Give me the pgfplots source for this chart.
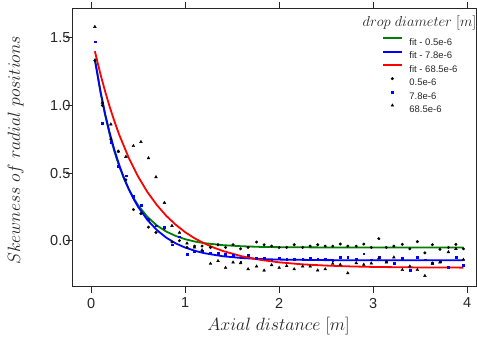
\RequirePackage{fix-cm}
\documentclass[border=0pt]{standalone}
\usepackage{fontspec}
\setmainfont{Liberation Sans}
\usepackage{pgfplots}
\pgfplotsset{compat=1.18}
\usepackage{pgfplotstable}
\definecolor{axgray}{gray}{0.15}
\definecolor{fitgreen}{rgb}{0,0.5,0}
\pgfplotsset{
  linelegend/.style={legend image code/.code={\path[draw=none, fill=none] (0pt,0pt) rectangle (19pt,7pt); \fill[##1, draw=none] (0pt,2.5pt) rectangle (19pt,4.5pt);}},
  marklegend/.style={legend image code/.code={\path[draw=none, fill=none] (0pt,0pt) rectangle (19pt,7pt); \draw[##1, only marks] plot coordinates {(9pt,3.5pt)};}},
}

\pgfplotstableread{
x y
0.04 1.33
0.12 1.00
0.21 0.75
0.29 0.66
0.37 0.45
0.45 0.23
0.53 0.20
0.61 0.10
0.69 0.06
0.78 0.09
0.86 -0.01
0.94 0.00
1.02 -0.05
1.10 -0.04
1.18 -0.04
1.27 -0.05
1.35 -0.03
1.43 -0.05
1.51 -0.03
1.59 -0.06
1.67 -0.05
1.76 -0.01
1.84 -0.03
1.92 -0.04
2.00 -0.05
2.08 -0.05
2.16 -0.03
2.25 -0.05
2.33 -0.04
2.41 -0.03
2.49 -0.04
2.57 -0.04
2.65 -0.025
2.73 -0.04
2.82 -0.04
2.90 -0.025
2.98 -0.05
3.06 0.015
3.14 -0.05
3.22 -0.04
3.31 -0.027
3.39 -0.06
3.47 -0.007
3.55 -0.09
3.63 -0.03
3.71 -0.064
3.80 -0.05
3.88 -0.027
3.96 -0.06
}\dataA

\pgfplotstableread{
x y
0.04 1.47
0.12 0.87
0.21 0.73
0.29 0.55
0.37 0.48
0.45 0.33
0.53 0.26
0.61 0.16
0.69 0.11
0.78 0.10
0.86 -0.03
0.94 0.03
1.02 -0.10
1.10 -0.075
1.18 -0.075
1.27 -0.09
1.35 -0.09
1.43 -0.10
1.51 -0.11
1.59 -0.155
1.67 -0.11
1.76 -0.13
1.84 -0.13
1.92 -0.14
2.00 -0.13
2.08 -0.137
2.16 -0.137
2.25 -0.137
2.33 -0.13
2.41 -0.137
2.49 -0.135
2.57 -0.146
2.65 -0.125
2.73 -0.12
2.82 -0.137
2.90 -0.096
2.98 -0.14
3.06 -0.125
3.14 -0.15
3.22 -0.167
3.31 -0.13
3.39 -0.216
3.47 -0.123
3.55 -0.14
3.63 -0.167
3.71 -0.15
3.80 -0.194
3.88 -0.125
3.96 -0.182
}\dataB

\pgfplotstableread{
x y
0.04 1.58
0.12 1.02
0.21 0.86
0.29 0.66
0.37 0.62
0.45 0.70
0.53 0.73
0.61 0.61
0.69 0.47
0.78 0.28
0.86 0.11
0.94 0.06
1.02 -0.02
1.10 -0.05
1.18 -0.07
1.27 -0.17
1.35 -0.15
1.43 -0.20
1.51 -0.16
1.59 -0.165
1.67 -0.21
1.76 -0.19
1.84 -0.22
1.92 -0.18
2.00 -0.20
2.08 -0.187
2.16 -0.21
2.25 -0.19
2.33 -0.19
2.41 -0.219
2.49 -0.21
2.57 -0.17
2.65 -0.177
2.73 -0.24
2.82 -0.165
2.90 -0.177
2.98 -0.167
3.06 -0.13
3.14 -0.16
3.22 -0.123
3.31 -0.216
3.39 -0.19
3.47 -0.216
3.55 -0.26
3.63 -0.167
3.71 -0.16
3.80 -0.084
3.88 -0.06
3.96 -0.14
}\dataC

\begin{document}
\begin{tikzpicture}
\begin{axis}[
  scale only axis, width=404.3pt, height=278.4pt,
  xmin=-0.2, xmax=4.1, ymin=-0.34, ymax=1.717,
  xtick={0,1,2,3,4}, ytick={0,0.5,1,1.5},
  tick align=outside, xtick pos=both, ytick pos=left,
  major tick length=6pt,
  axis line style={axgray, line width=1.25pt},
  every tick/.style={axgray, line width=1pt},
  /pgf/number format/assume math mode=true,
  ticklabel style={font=\fontsize{14.5}{17}\selectfont, text=axgray, inner sep=0pt},
  xticklabel style={yshift=-5pt},
  yticklabel style={xshift=4.3pt, /pgf/number format/.cd, fixed, fixed zerofill, precision=1},
  xlabel={$Axial\ distance\ [m]$},
  ylabel={$Skewness\ of\ radial\ positions$},
  label style={font=\fontsize{17.8}{21}\selectfont, text=axgray},
  xlabel style={at={(axis description cs:0.51,-0.157)}, anchor=base},
  ylabel style={at={(axis description cs:-0.129,0.49)}, anchor=base},
  clip=false,
  legend style={draw=none, fill=none, at={(rel axis cs:0.769,0.905)}, anchor=north west,
    font=\fontsize{9.5}{11}\selectfont, inner sep=0pt, row sep=2.9pt, column sep=7pt,
    nodes={inner sep=0pt, text=axgray, text height=7pt, text depth=0pt}},
  legend cell align=left,
]
\addplot[fitgreen, line width=1.8pt, linelegend] coordinates {
(0.04,1.346)(0.1,1.098)(0.15,0.925)(0.2,0.778)(0.25,0.654)(0.3,0.548)(0.35,0.458)(0.4,0.382)(0.45,0.317)(0.5,0.262)(0.6,0.175)(0.7,0.112)(0.8,0.067)(0.9,0.035)(1.0,0.011)(1.1,-0.006)(1.2,-0.018)(1.4,-0.033)(1.6,-0.041)(1.8,-0.046)(2.0,-0.048)(2.5,-0.050)(3.0,-0.050)(3.5,-0.050)(3.96,-0.050)};
\addlegendentry{fit - 0.5e-6}
\addplot[blue, line width=1.8pt, linelegend] coordinates {
(0.04,1.335)(0.1,1.101)(0.15,0.934)(0.2,0.790)(0.25,0.665)(0.3,0.557)(0.35,0.463)(0.4,0.382)(0.45,0.311)(0.5,0.250)(0.6,0.152)(0.7,0.078)(0.8,0.022)(0.9,-0.020)(1.0,-0.051)(1.1,-0.074)(1.2,-0.092)(1.4,-0.115)(1.6,-0.128)(1.8,-0.1355)(2.0,-0.1397)(2.5,-0.1437)(3.0,-0.1447)(3.5,-0.145)(3.96,-0.145)};
\addlegendentry{fit - 7.8e-6}
\addplot[red, line width=1.8pt, linelegend] coordinates {
(0.04,1.400)(0.1,1.229)(0.15,1.101)(0.2,0.984)(0.25,0.878)(0.3,0.781)(0.4,0.613)(0.5,0.474)(0.6,0.358)(0.7,0.263)(0.8,0.183)(0.9,0.118)(1.0,0.063)(1.1,0.018)(1.2,-0.019)(1.3,-0.050)(1.4,-0.076)(1.6,-0.115)(1.8,-0.1415)(2.0,-0.160)(2.25,-0.175)(2.5,-0.184)(2.75,-0.190)(3.0,-0.194)(3.5,-0.198)(3.96,-0.199)};
\addlegendentry{fit - 68.5e-6}
\addplot[only marks, mark=*, mark size=1.3pt, black, marklegend] table {\dataA};
\addlegendentry{0.5e-6}
\addplot[only marks, mark=square*, mark size=0.9pt, blue, marklegend] table {\dataB};
\addlegendentry{7.8e-6}
\addplot[only marks, mark=triangle*, mark size=1.6pt, black, marklegend] table {\dataC};
\addlegendentry{68.5e-6}
\node[anchor=base east, inner sep=0pt, font=\fontsize{14.5}{17}\selectfont, text=axgray] at (rel axis cs:1,0.933) {$drop\ diameter\ [m]$};
\end{axis}
\pgfresetboundingbox
\path (-72.3pt,-55.3pt) rectangle (404.7pt,286.7pt);
\end{tikzpicture}
\end{document}
